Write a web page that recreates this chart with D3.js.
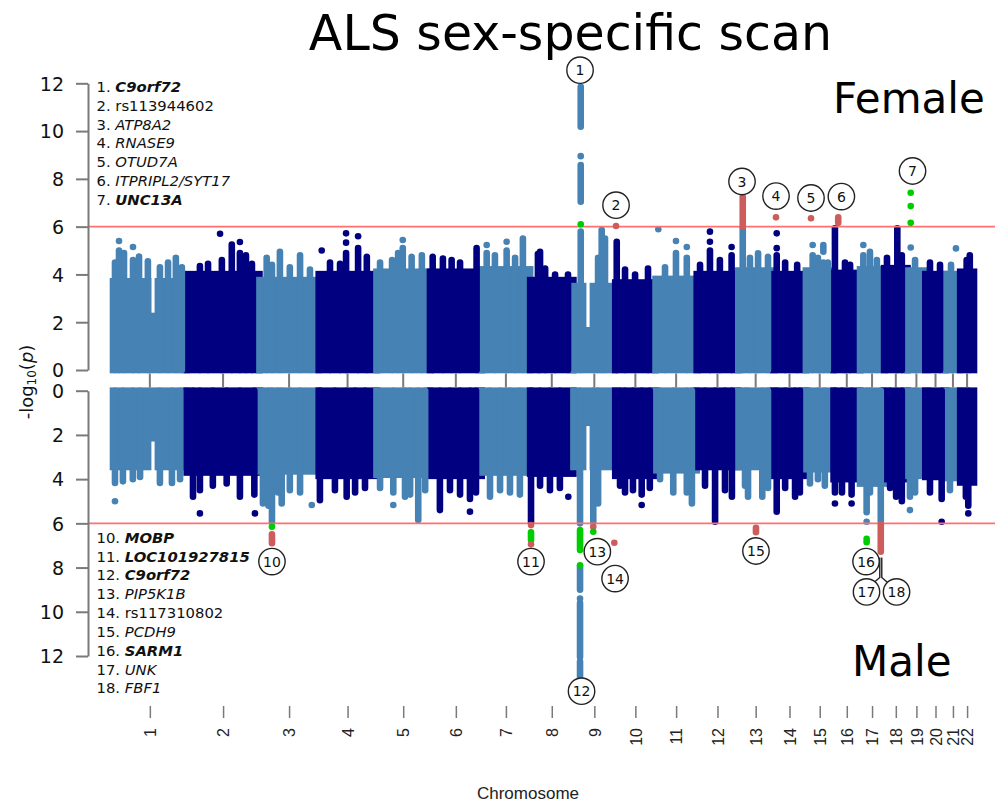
<!DOCTYPE html>
<html>
<head>
<meta charset="utf-8">
<script src="https://cdnjs.cloudflare.com/ajax/libs/d3/7.8.5/d3.min.js"></script>
<style>
  body { margin: 0; background: #fff; }
  svg { display: block; }
</style>
</head>
<body>
<svg id="chart" width="995" height="803"></svg>
<script>
// ---- data ---------------------------------------------------------------
const chromosomes = ["1","2","3","4","5","6","7","8","9","10","11","12","13","14","15","16","17","18","19","20","21","22"];
const chromSpanMb = [245, 242, 197, 192, 178, 172, 161, 144, 139, 134, 137, 138, 116, 109, 92, 88, 80, 78, 59, 68, 48, 46];
const yTicks = [0, 2, 4, 6, 8, 10, 12];
const threshold = 6;

// height of the dense SNP cloud per chromosome (-log10 p)
const femaleBody = [3.85, 4.15, 3.9, 4.15, 4.25, 4.25, 4.35, 3.9, 3.65, 3.8, 3.95, 4.15, 4.3, 4.15, 4.3, 4.2, 4.35, 4.4, 4.3, 4.15, 4.15, 4.25];
const maleBody   = [3.6, 3.85, 3.8, 4.0, 3.95, 4.0, 3.85, 3.9, 3.6, 4.0, 3.75, 3.6, 3.6, 4.0, 3.7, 4.15, 4.35, 4.15, 4.0, 4.05, 4.1, 4.3];

// sparse regions (centromeres): [chr, position Mb, depth reached]
const femaleGaps = [[1, 133, 2.4], [9, 48.5, 1.8]];
const maleGaps   = [[1, 133, 2.3], [9, 48.5, 1.6]];

// stacks of SNPs above the cloud: [chr, position Mb, low, high]
const femaleColumns = [
  [1,6.6,0,4.5],[1,20,0,5.0],[1,20,5.4,5.4],[1,36.6,0,4.9],[1,66.5,0,4.6],[1,66.5,5.15,5.15],[1,86.5,0,4.75],[1,116,0,4.55],[1,156,0,4.3],[1,183,0,4.5],[1,209,0,4.7],[1,229,0,4.3],
  [2,44,0,4.35],[2,71,0,4.45],[2,111,5.7,5.7],[2,117,0,4.6],[2,150,0,5.25],[2,177,0,4.9],[2,177,5.36,5.36],[2,197,0,4.8],[2,217,0,4.45],
  [3,24,0,4.7],[3,41.6,0,4.4],[3,68,0,4.95],[3,101,0,4.3],[3,135,0,4.8],[3,168,0,4.2],
  [4,10,5.0,5.0],[4,37.6,0,4.5],[4,71,0,4.45],[4,91,0,4.9],[4,91,5.33,5.33],[4,91,5.72,5.72],[4,131,0,5.1],[4,131,5.6,5.6],[4,160,0,4.74],
  [5,12,0,4.5],[5,52,0,4.6],[5,72,0,4.9],[5,87.5,0,5.1],[5,87.5,5.44,5.44],[5,117,0,4.74],[5,151,0,4.8],
  [6,9,0,4.74],[6,43,0,4.67],[6,72,0,4.6],[6,100,0,4.5],[6,155,0,5.1],
  [7,16.6,0,4.9],[7,16.6,5.23,5.23],[7,44,0,4.8],[7,83,0,5.0],[7,83,5.37,5.37],[7,111,0,4.7],[7,137,0,5.5],
  [8,26,0,4.85],[8,33,0,4.95],[8,50,0,4.25],[8,83,0,4.0],[8,126,0,4.0],
  [9,24.3,0,5.8],[9,24.3,7.04,8.58],[9,24.3,8.95,8.95],[9,24.3,10.18,11.85],[9,82,0,4.7],[9,94,0,5.86],[9,105,0,5.5],
  [10,5,0,5.37],[10,32.6,0,4.2],[10,66,0,4.0],[10,109,0,4.25],
  [11,9.3,5.89,5.89],[11,31.6,0,4.3],[11,68,0,4.9],[11,68,5.4,5.4],[11,104,0,4.7],[11,104,5.15,5.15],
  [12,11,0,4.4],[12,44,0,5.0],[12,44,5.37,5.37],[12,44,5.79,5.79],[12,77,0,4.6],[12,116,0,4.8],[12,116,5.15,5.15],
  [13,15,0,5.94],[13,39,0,4.7],[13,66,0,4.88],[13,99,0,4.74],
  [14,12,0,4.8],[14,12,5.1,5.1],[14,12,5.72,5.72],[14,40,0,4.5],[14,80,0,4.4],
  [15,22.6,0,4.8],[15,22.6,5.23,5.23],[15,40,0,4.7],[15,58,0,4.5],[15,58,4.95,5.23],[15,73,0,4.5],
  [16,4.6,0,5.93],[16,38,0,4.5],[16,55,0,4.4],
  [17,11,0,4.8],[17,11,5.23,5.23],[17,33,0,4.95],[17,56,0,4.6],
  [18,9.6,0,4.7],[18,44,0,5.93],[18,59,0,4.8],
  [19,10.6,5.13,5.13],[19,25,0,4.6],
  [20,15.6,0,4.5],[20,49,0,4.4],
  [21,17.6,0,4.4],[21,34,5.09,5.09],
  [22,21.6,0,4.6],[22,32,0,4.8]
];
const maleColumns = [
  [1,6.6,0,4.17],[1,6.6,5.0,5.0],[1,33,0,4.1],[1,66,0,4.0],[1,90,0,3.9],[1,156,0,4.17],[1,196,0,4.17],[1,223,0,4.0],
  [2,21,0,4.8],[2,44,0,4.5],[2,44,5.55,5.55],[2,87,0,4.3],[2,133,0,4.2],[2,177,0,4.8],[2,225,0,4.7],[2,227,5.55,5.55],
  [3,11.6,0,5.1],[3,30,0,5.2],[3,41.6,0,5.95],[3,61.5,0,4.6],[3,74,0,5.1],[3,101,0,4.5],[3,135,0,4.6],[3,174,5.17,5.17],
  [4,4,0,4.95],[4,54,0,4.5],[4,93,0,4.8],[4,121,0,4.6],[4,154,0,4.4],
  [5,12,0,4.4],[5,56,0,4.6],[5,56,5.17,5.17],[5,95,0,4.8],[5,112,0,4.7],[5,139,0,5.85],[5,162,0,4.5],
  [6,33,0,5.4],[6,66.5,0,4.5],[6,100,0,4.7],[6,133,0,4.9],[6,133,5.47,5.47],[6,153,0,4.6],
  [7,27.6,0,4.8],[7,61,0,4.5],[7,94,0,4.6],[7,127,0,4.7],
  [8,3,0,5.95],[8,33,0,4.3],[8,66,0,4.5],[8,99,0,4.4],[8,127,4.8,4.8],
  [9,22,0,6.0],[9,22,7.95,9.0],[9,22,9.4,9.4],[9,22,9.6,12.05],[9,22,12.25,12.95],[9,66,0,5.95],[9,82,0,5.1],
  [10,16,0,4.3],[10,32.6,0,4.6],[10,59,0,4.5],[10,88,0,4.7],[10,88,5.17,5.17],[10,115,0,4.4],
  [11,15,0,4.0],[11,59,0,4.6],[11,104,0,4.6],[11,121,0,5.1],
  [12,27.6,0,4.3],[12,61,0,5.93],[12,94,0,4.5],[12,117,0,4.8],
  [13,22.6,0,4.3],[13,32.6,0,4.8],[13,80,0,4.8],[13,99,0,4.4],
  [14,12,0,5.47],[14,40,0,4.4],[14,73,0,4.8],[14,89,0,4.6],
  [15,13.6,0,4.2],[15,40,0,4.0],[15,63,0,4.3],
  [16,4.6,0,4.6],[16,4.6,5.1,5.1],[16,28,0,4.6],[16,60,0,4.7],[16,60,5.1,5.1],
  [17,22,0,5.5],[17,22,5.93,5.93],[17,33,0,4.6],[17,69,0,5.9],
  [18,20,0,4.4],[18,40,0,4.8],[18,59,0,5.0],
  [19,8,0,4.8],[19,8,5.4,5.4],[19,25,0,4.6],
  [20,15.6,0,4.6],[20,54.5,0,4.9],[20,54.5,5.93,5.93],
  [21,14,0,4.5],
  [22,19,0,4.8],[22,27,0,5.2],[22,27,5.55,5.55]
];

// genome-wide hits: [chr, position Mb, low, high, class]
const femaleHits = [
  [9,24.3,6.1,6.1,"green"],[10,2.7,6.03,6.03,"red"],[13,15,6.0,7.25,"red"],[14,9.6,6.39,6.39,"red"],
  [15,17,6.35,6.35,"red"],[16,15.6,6.16,6.39,"red"],
  [19,10.6,6.16,6.16,"green"],[19,10.6,6.86,6.86,"green"],[19,10.6,7.42,7.42,"green"]
];
const maleHits = [
  [3,41.6,6.5,6.9,"red"],[3,41.6,6.15,6.15,"green"],
  [8,3,6.08,6.08,"red"],[8,3,6.4,6.75,"green"],[8,3,6.95,6.95,"red"],
  [9,22,6.3,7.2,"green"],[9,22,7.9,7.9,"green"],
  [9,66,6.15,6.15,"red"],[9,66,6.38,6.38,"green"],[9,136,6.88,6.88,"red"],
  [13,59,6.2,6.4,"red"],[17,22,6.7,6.85,"green"],[17,69,6.05,7.28,"red"]
];

// numbered loci: [number, chr, position Mb, -log10 p of the marker]
const femaleLoci = [[1,9,22,12.55],[2,10,2.7,6.9],[3,13,12.6,7.89],[4,14,9.6,7.28],[5,15,17,7.2],[6,16,26,7.26],[7,19,16.6,8.33]];
const maleLoci = [[10,3,41.6,7.73],[11,8,3,7.73],[12,9,27,13.59],[13,9,79.5,7.28],[14,9,138.5,8.5],[15,13,59,7.25],[16,17,20,7.73],[17,17,21.6,9.1],[18,18,41.4,9.1]];

// gene names: [number, name, style] (b = bold italic, i = italic, n = plain)
const femaleGenes = [[1,"C9orf72","b"],[2,"rs113944602","n"],[3,"ATP8A2","i"],[4,"RNASE9","i"],[5,"OTUD7A","i"],[6,"ITPRIPL2/SYT17","i"],[7,"UNC13A","b"]];
const maleGenes = [[10,"MOBP","b"],[11,"LOC101927815","b"],[12,"C9orf72","b"],[13,"PIP5K1B","i"],[14,"rs117310802","n"],[15,"PCDH9","i"],[16,"SARM1","b"],[17,"UNK","i"],[18,"FBF1","i"]];

// ---- drawing --------------------------------------------------------------
const svg = d3.select("#chart");
const COL_LIGHT = "#4682b4", COL_DARK = "#000080";
const HIT = { red: "#cd5c5c", green: "#00cd00" };
const AXIS_GREY = "#7a7a7a";
const R = 3.3;

const offsets = Array.from(d3.cumsum([0, ...chromSpanMb]));
const total = d3.sum(chromSpanMb);
const x = d3.scaleLinear().domain([0, total]).range([113, 974]);
const gx = (chr, pos) => x(offsets[chr - 1] + pos);
const mids = chromSpanMb.map((s, i) => offsets[i] + s / 2);
const chrColor = chr => (chr % 2 === 1 ? COL_LIGHT : COL_DARK);

const yTop = d3.scaleLinear().domain([0, 12]).range([370, 83.3]);
const yBot = d3.scaleLinear().domain([0, 12]).range([390.7, 656]);

// title
svg.append("text")
  .attr("x", 570.5).attr("y", 50)
  .attr("text-anchor", "middle")
  .style("font-family", "'DejaVu Sans', sans-serif")
  .style("font-size", "49px")
  .attr("fill", "#000")
  .text("ALS sex-specific scan");

function drawPanel(y, body, gaps, columns, hits, cls) {
  const g = svg.append("g").attr("class", cls);
  const dir = y(1) > y(0) ? 1 : -1;
  const base = y(0) - dir * R;

  // dense cloud per chromosome
  g.selectAll("rect.body").data(body).join("rect")
    .attr("class", "body")
    .attr("x", (d, i) => x(offsets[i]) - R)
    .attr("width", (d, i) => x(offsets[i] + chromSpanMb[i]) - x(offsets[i]) + 2 * R)
    .attr("y", d => Math.min(base, y(d)))
    .attr("height", d => Math.abs(base - y(d)))
    .attr("fill", (d, i) => chrColor(i + 1));

  // sparse stretches inside the cloud
  g.selectAll("line.gap").data(gaps).join("line")
    .attr("class", "gap")
    .attr("x1", d => gx(d[0], d[1])).attr("x2", d => gx(d[0], d[1]))
    .attr("y1", d => y(body[d[0] - 1] + 0.2)).attr("y2", d => y(d[2]))
    .attr("stroke", "#fff").attr("stroke-width", 3.2);

  const stack = (sel, colorFn) => {
    sel.filter(d => d[2] !== d[3])
      .append("line")
      .attr("x1", d => gx(d[0], d[1])).attr("x2", d => gx(d[0], d[1]))
      .attr("y1", d => y(d[2])).attr("y2", d => y(d[3]))
      .attr("stroke", colorFn).attr("stroke-width", 2 * R)
      .attr("stroke-linecap", "round");
    sel.filter(d => d[2] === d[3])
      .append("circle")
      .attr("cx", d => gx(d[0], d[1])).attr("cy", d => y(d[2]))
      .attr("r", R).attr("fill", colorFn);
  };

  stack(g.selectAll("g.col").data(columns).join("g").attr("class", "col"), d => chrColor(d[0]));

  // genome-wide threshold
  g.append("line")
    .attr("x1", 88).attr("x2", 995)
    .attr("y1", y(threshold)).attr("y2", y(threshold))
    .attr("stroke", "#ff7070").attr("stroke-width", 1.6);

  stack(g.selectAll("g.hit").data(hits).join("g").attr("class", "hit"), d => HIT[d[4]]);

  // y axis
  const ax = svg.append("g")
    .attr("transform", "translate(88,0)")
    .call(d3.axisLeft(y).tickValues(yTicks).tickSize(12).tickSizeOuter(0).tickPadding(12));
  ax.select(".domain").attr("stroke", AXIS_GREY).attr("stroke-width", 2);
  ax.selectAll(".tick line").attr("stroke", AXIS_GREY).attr("stroke-width", 2);
  ax.selectAll(".tick text")
    .attr("fill", "#111")
    .attr("dy", "0.36em")
    .style("font-family", "'DejaVu Sans', sans-serif")
    .style("font-size", "19px");
}

drawPanel(yTop, femaleBody, femaleGaps, femaleColumns, femaleHits, "female");
drawPanel(yBot, maleBody, maleGaps, maleColumns, maleHits, "male");

// chromosome ticks between the panels
svg.append("g").selectAll("line").data(mids).join("line")
  .attr("x1", d => x(d)).attr("x2", d => x(d))
  .attr("y1", 373.5).attr("y2", 387.5)
  .attr("stroke", AXIS_GREY).attr("stroke-width", 2);

// x axis
const xa = svg.append("g")
  .attr("transform", "translate(0,706)")
  .call(d3.axisBottom(x).tickValues(mids).tickFormat((d, i) => chromosomes[i]).tickSize(12).tickSizeOuter(0));
xa.select(".domain").remove();
xa.selectAll(".tick line").attr("stroke", AXIS_GREY).attr("stroke-width", 1.5);
xa.selectAll(".tick text")
  .attr("transform", "rotate(-90)")
  .attr("x", -22).attr("y", 0).attr("dy", "0.36em")
  .attr("text-anchor", "end")
  .attr("fill", "#222")
  .style("font-family", "'Liberation Sans', Arial, sans-serif")
  .style("font-size", "16px");

svg.append("text")
  .attr("x", 528).attr("y", 799)
  .attr("text-anchor", "middle")
  .style("font-family", "'Liberation Sans', Arial, sans-serif")
  .style("font-size", "17px")
  .attr("fill", "#222")
  .text("Chromosome");

// y axis title
const yt = svg.append("text")
  .attr("transform", "translate(33,382) rotate(-90)")
  .attr("text-anchor", "middle")
  .style("font-family", "'DejaVu Sans', sans-serif")
  .style("font-size", "18px")
  .attr("fill", "#111");
yt.append("tspan").text("-log");
yt.append("tspan").attr("baseline-shift", "-25%").style("font-size", "12px").text("10");
yt.append("tspan").text("(");
yt.append("tspan").style("font-style", "italic").text("p");
yt.append("tspan").text(")");

// panel names
svg.append("text").attr("x", 833).attr("y", 113)
  .style("font-family", "'DejaVu Sans', sans-serif").style("font-size", "42px")
  .attr("fill", "#000").text("Female");
svg.append("text").attr("x", 852).attr("y", 676)
  .style("font-family", "'DejaVu Sans', sans-serif").style("font-size", "42px")
  .attr("fill", "#000").text("Male");

// gene lists
function geneList(list, y0) {
  const t = svg.append("g");
  list.forEach((d, i) => {
    const txt = t.append("text")
      .attr("x", 96.5).attr("y", y0 + i * 18.83)
      .style("font-family", "'DejaVu Sans', sans-serif")
      .style("font-size", "14.8px")
      .attr("fill", "#111");
    txt.append("tspan").text(d[0] + ". ");
    const nm = txt.append("tspan").text(d[1]);
    if (d[2] !== "n") nm.style("font-style", "italic");
    if (d[2] === "b") nm.style("font-weight", "bold");
  });
}
geneList(femaleGenes, 92);
geneList(maleGenes, 542.7);

// leader from locus 17/18 markers to their badges
const lx = gx(17, 69);
const leadTop = yBot(7.55), leadMid = yBot(8.45);
svg.append("path")
  .attr("d", `M${lx - 1},${leadTop} V${leadMid} L${lx - 8},${leadMid + 6} M${lx + 1},${leadTop} V${leadMid} L${lx + 8},${leadMid + 6}`)
  .attr("fill", "none").attr("stroke", "#222").attr("stroke-width", 1.4);

// numbered badges
function badges(list, y) {
  const b = svg.append("g").selectAll("g").data(list).join("g")
    .attr("transform", d => `translate(${gx(d[1], d[2])},${y(d[3])})`);
  b.append("circle").attr("r", 13.2)
    .attr("fill", "#fff").attr("stroke", "#222").attr("stroke-width", 1.4);
  b.append("text")
    .attr("text-anchor", "middle").attr("dy", "0.36em")
    .style("font-family", "'DejaVu Sans', sans-serif")
    .style("font-size", "14px")
    .attr("fill", "#111")
    .text(d => d[0]);
}
badges(femaleLoci, yTop);
badges(maleLoci, yBot);
</script>
</body>
</html>
